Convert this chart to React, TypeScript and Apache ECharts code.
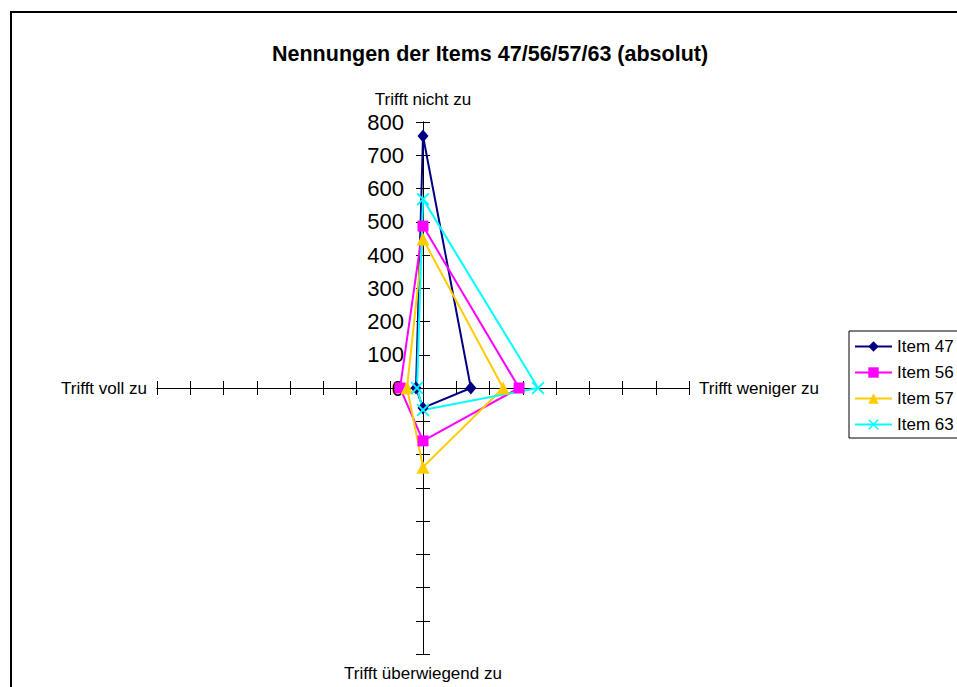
import React, { useEffect, useRef } from "react";
import * as echarts from "echarts";

// Axis categories (top, right, bottom, left)
const categories = ["Trifft nicht zu", "Trifft weniger zu", "Trifft überwiegend zu", "Trifft voll zu"];
const seriesNames = ["Item 47", "Item 56", "Item 57", "Item 63"];
const item47 = [758, 144, 60, 21];
const item56 = [487, 289, 159, 69];
const item57 = [448, 241, 238, 48];
const item63 = [568, 346, 66, 18];
const seriesValues = [item47, item56, item57, item63];
const seriesColors = ["#000080", "#FF00FF", "#FFCC00", "#00FFFF"];
const axisMax = 800;
const axisStep = 100;
const titleText = "Nennungen der Items 47/56/57/63 (absolut)";

const FONT = "'Liberation Sans', Arial, sans-serif";
const X_SYMBOL = "path://M0,1 L1,0 L5,4 L9,0 L10,1 L6,5 L10,9 L9,10 L5,6 L1,10 L0,9 L4,5 Z";
const symbols = ["diamond", "rect", "triangle", X_SYMBOL];
const symbolSizes: any[] = [[11, 13], 11, 13, 13];

// direction of each category axis: top, right, bottom, left
const dirs = [
  [0, 1],
  [1, 0],
  [0, -1],
  [-1, 0],
];

function toPoints(vals: number[]) {
  const pts: any[] = vals.map((v, i) => [dirs[i][0] * v, dirs[i][1] * v]);
  pts.push({ value: pts[0], symbol: "none" });
  return pts;
}

const GRID_LEFT = 157;
const GRID_TOP = 122;
const GRID_SIZE = 532;
const HALF = -GRID_SIZE / 2;

export default function App() {
  const ref = useRef<HTMLDivElement>(null);
  useEffect(() => {
    if (!ref.current) return;
    const chart = echarts.init(ref.current, null, { renderer: "svg" });
    const baseAxis = {
      type: "value",
      min: -axisMax,
      max: axisMax,
      interval: axisStep,
      offset: HALF,
      splitLine: { show: false },
      axisLine: { show: true, onZero: false, lineStyle: { color: "#000", width: 1 } },
      axisTick: { show: true, length: 7, lineStyle: { color: "#000", width: 1 } },
      axisLabel: { show: false },
      nameTextStyle: { color: "#000", fontSize: 17, fontFamily: FONT },
    };
    chart.setOption({
      animation: false,
      backgroundColor: "#fff",
      textStyle: { fontFamily: FONT },
      title: {
        text: titleText,
        left: 267,
        top: 38,
        textStyle: { fontSize: 21.5, fontWeight: "bold", color: "#000", fontFamily: FONT },
      },
      graphic: [
        {
          type: "rect",
          shape: { x: 11, y: 12, width: 1000, height: 1000 },
          style: { fill: "none", stroke: "#000", lineWidth: 2 },
          silent: true,
          z: -10,
        },
      ],
      legend: {
        data: seriesNames,
        orient: "vertical",
        left: 849,
        top: 331,
        borderColor: "#000",
        borderWidth: 1,
        borderRadius: 0,
        padding: [7, 20, 5, 5],
        itemWidth: 37,
        itemHeight: 13,
        itemGap: 9,
        textStyle: { fontSize: 17, color: "#000", fontFamily: FONT },
      },
      grid: { left: GRID_LEFT, top: GRID_TOP, width: GRID_SIZE, height: GRID_SIZE, containLabel: false },
      xAxis: [
        { ...baseAxis, position: "bottom", name: categories[1], nameLocation: "end", nameGap: 10 },
        { ...baseAxis, position: "top", name: categories[3], nameLocation: "start", nameGap: 10 },
      ],
      yAxis: [
        {
          ...baseAxis,
          position: "left",
          name: categories[0],
          nameLocation: "end",
          nameGap: 14,
          axisLabel: {
            show: true,
            margin: 19,
            fontSize: 22,
            color: "#000",
            fontFamily: FONT,
            formatter: (v: number) => (v >= 0 ? String(v) : ""),
          },
        },
        { ...baseAxis, position: "right", name: categories[2], nameLocation: "start", nameGap: 11 },
      ],
      series: seriesValues.map((vals, i) => ({
        name: seriesNames[i],
        type: "line",
        xAxisIndex: 0,
        yAxisIndex: 0,
        data: toPoints(vals),
        symbol: symbols[i],
        symbolSize: symbolSizes[i],
        lineStyle: { color: seriesColors[i], width: 2 },
        itemStyle: { color: seriesColors[i] },
      })),
    });
    return () => chart.dispose();
  }, []);
  return (
    <div
      ref={ref}
      style={{ position: "absolute", left: 0, top: 0, width: 957, height: 687 }}
    />
  );
}
